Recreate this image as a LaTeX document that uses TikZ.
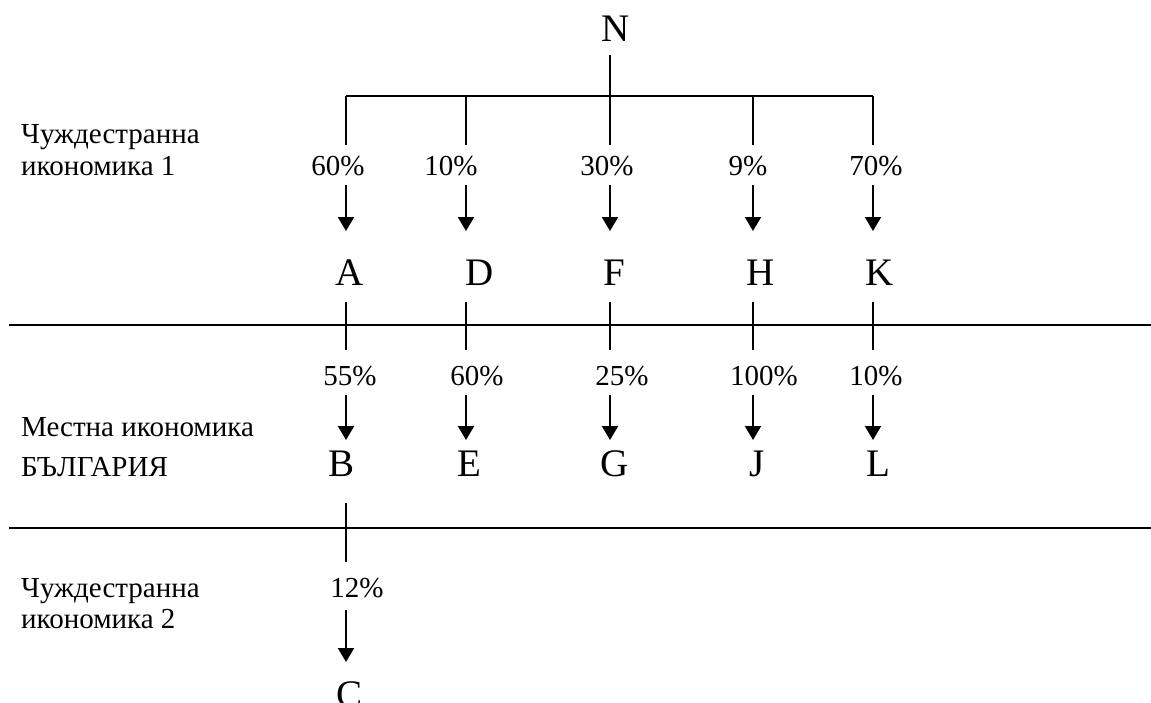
\documentclass[tikz,border=0pt]{standalone}
\usepackage{fontspec}
\setmainfont{Liberation Serif}
\usetikzlibrary{arrows.meta}
\tikzset{
  ln/.style={line width=2pt, line cap=butt},
  arr/.style={line width=2pt, -{Triangle[width=16pt,length=14pt]}},
  big/.style={inner sep=0pt, anchor=base, font=\fontsize{39}{43}\selectfont},
  pct/.style={inner sep=0pt, anchor=base, font=\fontsize{29}{33}\selectfont},
  side/.style={inner sep=0pt, anchor=base west, font=\fontsize{29}{33}\selectfont},
}
\begin{document}
\begin{tikzpicture}[x=1pt,y=-1pt]
\useasboundingbox (0,0) rectangle (1151,702);
% top node
\node[big] (N) at (616,41) {N};
\coordinate (Nb) at (610,55);
\coordinate (Nbar) at (610,96);
\draw[ln] (Nb) -- (Nbar);
\coordinate (barL) at (346,96);
\coordinate (barR) at (873,96);
\draw[ln] (barL) -- (barR);
% separators
\coordinate (s1l) at (9,325); \coordinate (s1r) at (1151,325);
\coordinate (s2l) at (9,528); \coordinate (s2r) at (1151,528);
\draw[ln] (s1l) -- (s1r);
\draw[ln] (s2l) -- (s2r);
% side labels
\node[side] (L1a) at (21,143) {Чуждестранна};
\node[side] (L1b) at (21,175) {икономика 1};
\node[side] (L2a) at (21,436) {Местна икономика};
\node[side] (L2b) at (21,476) {БЪЛГАРИЯ};
\node[side] (L3a) at (21,597) {Чуждестранна};
\node[side] (L3b) at (21,628) {икономика 2};
% row 1
\foreach \i/\xl/\xp/\xt/\p/\t in {1/346/338/350/60\%/A, 2/466/451/480/10\%/D, 3/610/607/614/30\%/F, 4/753/748/761/9\%/H, 5/873/876/880/70\%/K}{
  \node[pct] (p1\i) at (\xp,175) {\p};
  \node[big] (t1\i) at (\xt,285) {\t};
  \coordinate (v1a\i) at (\xl,96);
  \coordinate (v1b\i) at (\xl,145);
  \coordinate (a1a\i) at (\xl,185);
  \coordinate (a1b\i) at (\xl,231);
  \draw[ln] (v1a\i) -- (v1b\i);
  \draw[arr] (a1a\i) -- (a1b\i);
  \coordinate (v2a\i) at (\xl,302);
  \coordinate (v2b\i) at (\xl,350);
  \draw[ln] (v2a\i) -- (v2b\i);
}
% row 2
\foreach \i/\xl/\xp/\xt/\p/\t in {1/346/350/342/55\%/B, 2/466/477/469/60\%/E, 3/610/622/615/25\%/G, 4/753/764/757/100\%/J, 5/873/876/878/10\%/L}{
  \node[pct] (p2\i) at (\xp,385) {\p};
  \node[big] (t2\i) at (\xt,476) {\t};
  \coordinate (a2a\i) at (\xl,395);
  \coordinate (a2b\i) at (\xl,440);
  \draw[arr] (a2a\i) -- (a2b\i);
}
% row 3
\coordinate (v3a) at (346,503);
\coordinate (v3b) at (346,562);
\draw[ln] (v3a) -- (v3b);
\node[pct] (p31) at (357,597) {12\%};
\coordinate (a3a) at (346,610);
\coordinate (a3b) at (346,662);
\draw[arr] (a3a) -- (a3b);
\node[big] (t31) at (350,707) {C};
\end{tikzpicture}
\end{document}
